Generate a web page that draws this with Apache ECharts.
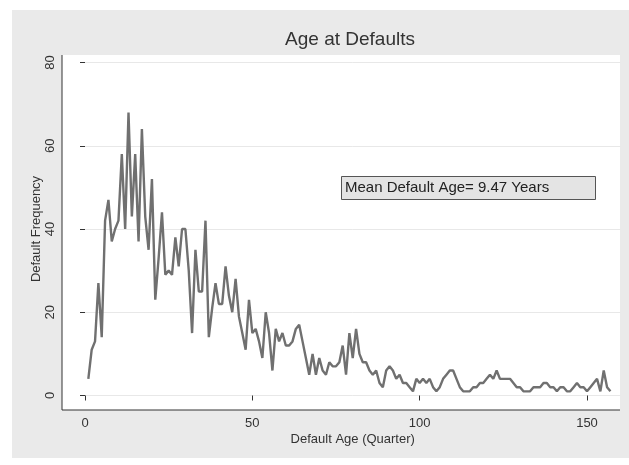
<!DOCTYPE html>
<html>
<head>
<meta charset="utf-8">
<script src="https://cdn.jsdelivr.net/npm/echarts@6/dist/echarts.min.js"></script>
<style>
html,body{margin:0;padding:0;background:#fff;}
#chart{width:629px;height:465px;}
</style>
</head>
<body>
<div id="chart"></div>
<script>
// Default frequency by default age (quarter 1..157)
var frequency = [
  4, 11, 13, 27, 14, 42, 47, 37, 40, 42,
  58, 40, 68, 43, 58, 37, 64, 43, 35, 52,
  23, 33, 44, 29, 30, 29, 38, 31, 40, 40,
  30, 15, 35, 25, 25, 42, 14, 21, 27, 22,
  22, 31, 24, 20, 28, 19, 15, 11, 23, 15,
  16, 13, 9, 20, 15, 6, 16, 13, 15, 12,
  12, 13, 16, 17, 13, 9, 5, 10, 5, 9,
  6, 5, 8, 7, 7, 8, 12, 5, 15, 9,
  16, 10, 8, 8, 6, 5, 6, 3, 2, 6,
  7, 6, 4, 5, 3, 3, 2, 1, 4, 3,
  4, 3, 4, 2, 1, 2, 4, 5, 6, 6,
  4, 2, 1, 1, 1, 2, 2, 3, 3, 4,
  5, 4, 6, 4, 4, 4, 4, 3, 2, 2,
  1, 1, 1, 2, 2, 2, 3, 3, 2, 2,
  1, 2, 2, 1, 1, 2, 3, 2, 2, 1,
  2, 3, 4, 1, 6, 2, 1
];
var xTicks = [0, 50, 100, 150];
var yTicks = [0, 20, 40, 60, 80];
var titleText = 'Age at Defaults';
var xName = 'Default Age (Quarter)';
var yName = 'Default Frequency';
var note = 'Mean Default Age= 9.47 Years';

var points = frequency.map(function (v, i) { return [i + 1, v]; });

var chart = echarts.init(document.getElementById('chart'), null, {renderer: 'canvas'});
var font = 'Liberation Sans, Arial, sans-serif';
chart.setOption({
  animation: false,
  backgroundColor: '#ffffff',
  graphic: [
    {type: 'rect', z: -10, silent: true, shape: {x: 12, y: 10, width: 617, height: 448}, style: {fill: '#eaeaea'}},
    {type: 'rect', z: -9, silent: true, shape: {x: 62, y: 55, width: 558, height: 355}, style: {fill: '#ffffff'}},
    {type: 'line', z: 40, silent: true, shape: {x1: 62, y1: 55, x2: 62, y2: 410}, style: {stroke: '#333', lineWidth: 1}},
    {type: 'line', z: 40, silent: true, shape: {x1: 62, y1: 410, x2: 620, y2: 410}, style: {stroke: '#333', lineWidth: 1}},
    {type: 'group', z: 50, children: [
      {type: 'rect', shape: {x: 341.5, y: 176.5, width: 254, height: 23}, style: {fill: '#e4e4e4', stroke: '#555', lineWidth: 1}},
      {type: 'text', x: 345, y: 188, style: {text: note, fill: '#222', font: '15px ' + font, textVerticalAlign: 'middle'}}
    ]}
  ],
  title: {
    text: titleText, left: 345, top: 25, textAlign: 'center',
    textStyle: {fontFamily: font, fontSize: 19, fontWeight: 'normal', color: '#333'}
  },
  grid: {left: 85, right: 629 - 85 - 160 * (502 / 150), top: 62.5, bottom: 69.5},
  xAxis: {
    type: 'value', min: 0, max: 160, offset: 14.5,
    name: xName, nameLocation: 'middle', nameGap: 23, nameMoveOverlap: false,
    nameTextStyle: {fontFamily: font, fontSize: 13, color: '#333'},
    axisLine: {show: false},
    axisTick: {show: true, length: 5, lineStyle: {color: '#333'}, customValues: xTicks},
    axisLabel: {fontFamily: font, fontSize: 13, color: '#333', margin: 7, customValues: xTicks},
    splitLine: {show: false}
  },
  yAxis: {
    type: 'value', min: 0, max: 80, interval: 20, offset: 23,
    name: yName, nameLocation: 'middle', nameGap: 19, nameMoveOverlap: false,
    nameTextStyle: {fontFamily: font, fontSize: 13, color: '#333'},
    axisLine: {show: false},
    axisTick: {show: true, length: 5, lineStyle: {color: '#333'}, customValues: yTicks},
    axisLabel: {fontFamily: font, fontSize: 13, color: '#333', rotate: 90, margin: 5, customValues: yTicks},
    splitLine: {show: true, lineStyle: {color: '#e8e8e8', width: 1}}
  },
  series: [{
    type: 'line', data: points, showSymbol: false,
    lineStyle: {color: '#707070', width: 2.4}
  }]
});
</script>
</body>
</html>
